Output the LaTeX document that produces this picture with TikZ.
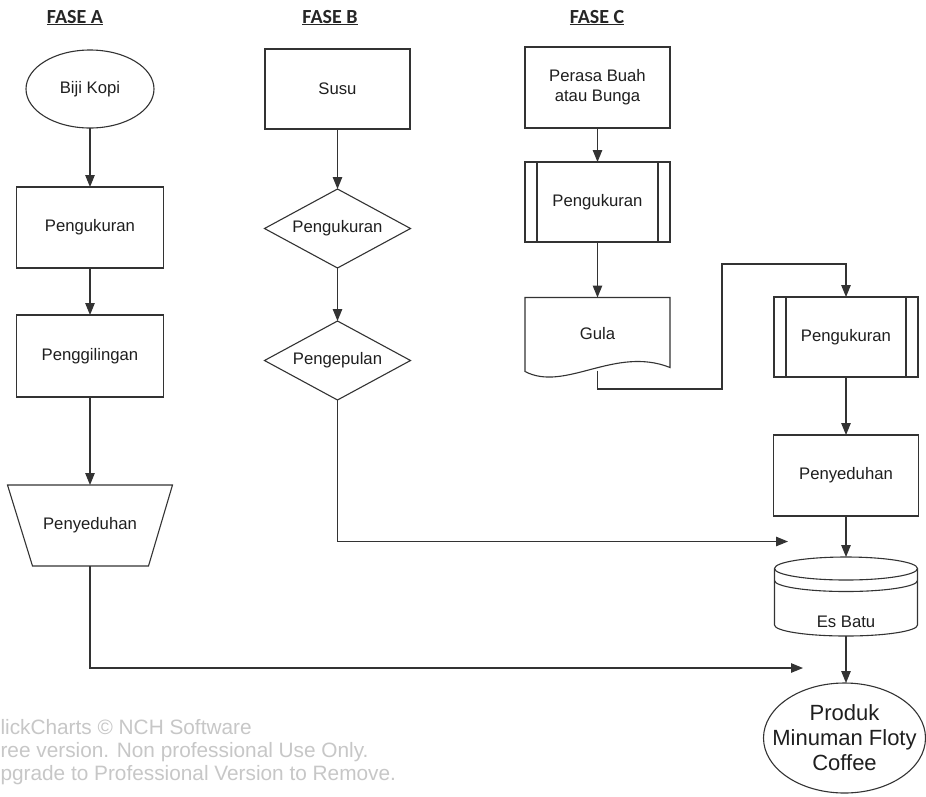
\documentclass[tikz,border=0pt]{standalone}
\usepackage{fontspec}
\setmainfont{Liberation Sans}
\newfontfamily\hdfont{Carlito}
\usetikzlibrary{arrows.meta,shapes.geometric,calc}
\begin{document}
\begin{tikzpicture}[x=1pt,y=-1pt,line width=1.1pt,color=black!80,
  shp/.style={font=\fontsize{16.7}{20}\selectfont, align=center, text=black!88, inner sep=0pt, outer sep=0pt},
  box/.style={shp, draw=black!80},
  arr/.style={-{Triangle[length=12pt,width=9.5pt]}, draw=black!80},
  head/.style={font=\hdfont\bfseries\fontsize{20}{24}\selectfont, text=black!85, anchor=base, inner sep=0pt},
  wm/.style={font=\fontsize{20.8}{23.5}\selectfont, text=black!22, anchor=base west, inner sep=0pt},
  big/.style={font=\fontsize{22}{25}\selectfont, align=center, text=black!88, inner sep=0pt, outer sep=0pt}]
\useasboundingbox (0,0) rectangle (926,796);
\fill[white] (0,0) rectangle (926,796);
\clip (0,0) rectangle (926,796);

% headers
\node[head] (hA) at (75,23) {\underline{FASE A}};
\node[head] (hB) at (330,23) {\underline{FASE B}};
\node[head] (hC) at (597,23) {\underline{FASE C}};

% column A
\node[box, ellipse, minimum width=128, minimum height=78] (biji) at (90,89) {Biji Kopi};
\node[box, minimum width=147, minimum height=81] (a1) at (90,227.5) {Pengukuran};
\node[box, minimum width=147, minimum height=82] (a2) at (90,356) {Penggilingan};
\node[shp, minimum width=165, minimum height=81] (a3) at (90,525.5) {Penyeduhan};
\draw (a3.north west) -- (a3.north east) -- ([xshift=-24pt]a3.south east) -- ([xshift=25pt]a3.south west) -- cycle;

% column B
\node[box, minimum width=145, minimum height=80] (susu) at (337.5,89) {Susu};
\node[shp, minimum width=146, minimum height=79] (b1) at (337.5,228.5) {Pengukuran};
\draw (b1.north) -- (b1.east) -- (b1.south) -- (b1.west) -- cycle;
\node[shp, minimum width=146, minimum height=79] (b2) at (337.5,360.5) {Pengepulan};
\draw (b2.north) -- (b2.east) -- (b2.south) -- (b2.west) -- cycle;

% column C
\node[box, minimum width=145, minimum height=81] (perasa) at (597.5,87.5) {Perasa Buah\\atau Bunga};
\node[box, minimum width=145, minimum height=80] (c1) at (597.5,202) {Pengukuran};
\draw ([xshift=12pt]c1.north west) -- ([xshift=12pt]c1.south west);
\draw ([xshift=-12pt]c1.north east) -- ([xshift=-12pt]c1.south east);
\node[shp, minimum width=145, minimum height=73] (gula) at (597.5,334) {Gula};
\draw (gula.north west) -- (gula.north east) -- ($(gula.south east)+(0,-3)$)
  .. controls ($(gula.south east)+(-55,-25)$) and ($(gula.south west)+(40,22)$) .. ($(gula.south west)+(0,1)$) -- cycle;

\node[box, minimum width=144, minimum height=80] (c2) at (846,337) {Pengukuran};
\draw ([xshift=12pt]c2.north west) -- ([xshift=12pt]c2.south west);
\draw ([xshift=-12pt]c2.north east) -- ([xshift=-12pt]c2.south east);
\node[box, minimum width=145, minimum height=81] (c3) at (846,475.5) {Penyeduhan};

\node[shp, minimum width=143, minimum height=79] (cyl) at (846,596.5) {};
\draw ($(cyl.north)+(0,11.5)$) ellipse [x radius=71.5pt, y radius=11.5pt];
\draw ($(cyl.north west)+(0,11.5)$) -- ($(cyl.south west)+(0,-11)$) arc[start angle=180, end angle=360, x radius=71.5pt, y radius=11pt] -- ($(cyl.north east)+(0,11.5)$);
\draw ($(cyl.north west)+(0,23.5)$) arc[start angle=180, end angle=360, x radius=71.5pt, y radius=11pt];
\node[shp] (esbatu) at (846,622) {Es Batu};

\node[big, minimum width=162, minimum height=110] (produk) at (844.5,738) {Produk\\Minuman Floty\\Coffee};
\draw (produk.center) ellipse [x radius=81pt, y radius=55pt];

% connectors
\draw[arr] (biji.south) -- (a1.north);
\draw[arr] (a1.south) -- (a2.north);
\draw[arr] (a2.south) -- (a3.north);
\draw[arr] (susu.south) -- (b1.north);
\draw[arr] (b1.south) -- (b2.north);
\draw[arr] (perasa.south) -- (c1.north);
\draw[arr] (c1.south) -- (gula.north);
\coordinate (k1) at (722,389);
\coordinate (k2) at (722,264);
\draw[arr] (gula.south) |- (k1) -- (k2) -| (c2.north);
\draw[arr] (c2.south) -- (c3.north);
\draw[arr] (c3.south) -- (cyl.north);
\draw[arr] (cyl.south) -- (cyl.south |- produk.north);
\coordinate (ea) at (803,668);
\draw[arr] (a3.south) |- (ea);
\coordinate (eb) at (788,541.5);
\draw[arr] (b2.south) |- (eb);

% watermark (printed cut at the left edge)
\node[wm] (wm1) at (0,734) {lickCharts © NCH Software};
\node[wm] (wm2) at (0,757) {ree version. Non professional Use Only.};
\node[wm] (wm3) at (0,780) {pgrade to Professional Version to Remove.};
\end{tikzpicture}
\end{document}
